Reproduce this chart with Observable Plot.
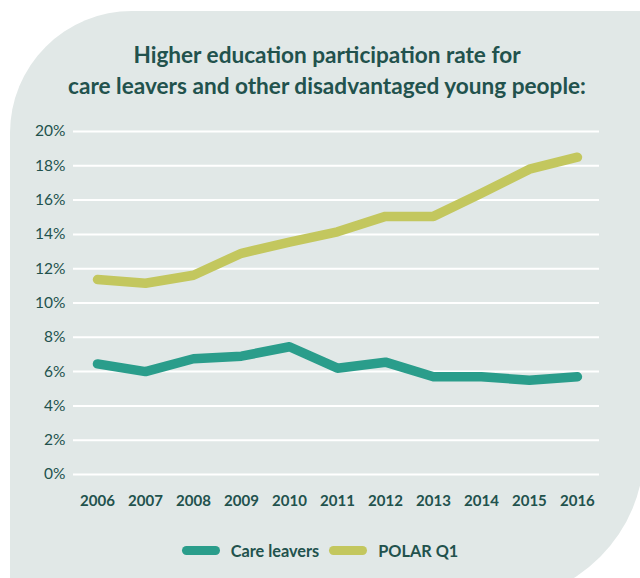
<!DOCTYPE html>
<html>
<head>
<meta charset="utf-8">
<script src="https://cdn.jsdelivr.net/npm/d3@7"></script>
<script src="https://cdn.jsdelivr.net/npm/@observablehq/plot@0.6"></script>
<style>
  html, body { margin: 0; padding: 0; background: #ffffff; }
  body { width: 640px; height: 578px; overflow: hidden; position: relative; font-family: Lato, "Open Sans", sans-serif; }
  #bg { position: absolute; left: 10px; top: 11px; width: 634px; height: 590px; background: #e1e8e7;
        border-top-left-radius: 122px; border-bottom-right-radius: 150px; }
  #title { position: absolute; left: 0; top: 40px; width: 654px; text-align: center; color: #22524d;
           font-weight: 700; font-size: 22.6px; line-height: 30.5px; }
  #chart { position: absolute; left: 0; top: 110px; }
  #legend { position: absolute; left: 4px; top: 541px; width: 632px; display: flex; justify-content: center; gap: 10px;
            color: #22524d; font-weight: 700; font-size: 16.3px; align-items: center; }
  .item { display: flex; align-items: center; gap: 11px; }
  .sw { width: 38px; height: 9px; border-radius: 5px; }
</style>
</head>
<body>
<div id="bg"></div>
<div id="title">Higher education participation rate for<br>care leavers and other disadvantaged young people:</div>
<div id="chart"></div>
<div id="legend"></div>
<script>
const years = [2006, 2007, 2008, 2009, 2010, 2011, 2012, 2013, 2014, 2015, 2016];
const careLeavers = [6.45, 6.0, 6.75, 6.9, 7.45, 6.2, 6.55, 5.7, 5.7, 5.5, 5.7];
const polarQ1 = [11.37, 11.15, 11.62, 12.9, 13.55, 14.15, 15.05, 15.05, 16.4, 17.8, 18.5];
const seriesNames = ["Care leavers", "POLAR Q1"];
const seriesColors = ["#2a9d8b", "#c3c75e"];
const yTicks = [0, 2, 4, 6, 8, 10, 12, 14, 16, 18, 20];
const textColor = "#22524d";

const data = [
  ...years.map((year, i) => ({year, value: careLeavers[i], series: seriesNames[0]})),
  ...years.map((year, i) => ({year, value: polarQ1[i], series: seriesNames[1]}))
];

const chart = Plot.plot({
  width: 640,
  height: 400,
  marginLeft: 73,
  marginRight: 41,
  marginTop: 21,
  marginBottom: 36,
  style: {background: "transparent", color: textColor, fontFamily: "Lato, 'Open Sans', sans-serif"},
  x: {type: "linear", domain: [2005.5, 2016.46]},
  y: {domain: [0, 20]},
  color: {domain: seriesNames, range: seriesColors},
  marks: [
    Plot.gridY(yTicks, {stroke: "#ffffff", strokeOpacity: 1, strokeWidth: 2}),
    Plot.axisY(yTicks, {tickSize: 0, tickPadding: 8, tickFormat: d => d + "%", fontSize: 15.5, label: null}),
    Plot.axisX(years, {tickSize: 0, tickPadding: 21, tickFormat: d => String(d), fontSize: 15, fontWeight: 700, label: null}),
    Plot.line(data, {x: "year", y: "value", stroke: "series", z: "series", strokeWidth: 9.5,
      strokeLinecap: "round", strokeLinejoin: "round"})
  ]
});
document.getElementById("chart").appendChild(chart);

const legend = document.getElementById("legend");
seriesNames.forEach((name, i) => {
  const item = document.createElement("div");
  item.className = "item";
  const sw = document.createElement("div");
  sw.className = "sw";
  sw.style.background = seriesColors[i];
  const label = document.createElement("span");
  label.textContent = name;
  item.appendChild(sw);
  item.appendChild(label);
  legend.appendChild(item);
});
</script>
</body>
</html>
